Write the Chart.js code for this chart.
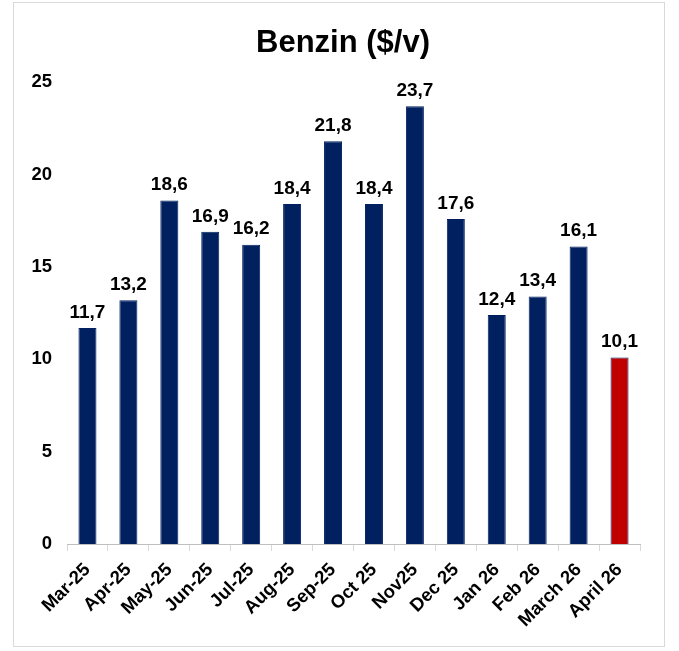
<!DOCTYPE html>
<html>
<head>
<meta charset="utf-8">
<script src="https://cdn.jsdelivr.net/npm/chart.js@4"></script>
<style>
html,body{margin:0;padding:0;background:#fff;}
#wrap{position:absolute;left:0;top:0;width:679px;height:651px;}
#frame{position:absolute;left:13px;top:2px;width:650px;height:643px;border:1px solid #d9d9d9;pointer-events:none;}
</style>
</head>
<body>
<div id="wrap"><canvas id="c" width="679" height="651"></canvas></div>
<div id="frame"></div>
<script>
const categories = ["Mar-25","Apr-25","May-25","Jun-25","Jul-25","Aug-25","Sep-25","Oct 25","Nov25","Dec 25","Jan 26","Feb 26","March 26","April 26"];
const values = [11.7,13.2,18.6,16.9,16.2,18.4,21.8,18.4,23.7,17.6,12.4,13.4,16.1,10.1];
const barColors = ["#002060","#002060","#002060","#002060","#002060","#002060","#002060","#002060","#002060","#002060","#002060","#002060","#002060","#C00000"];
const yTicks = [0,5,10,15,20,25];
const titleText = "Benzin ($/v)";

const FONT = "'Liberation Sans', Arial, sans-serif";

const labelPlugin = {
  id: 'valueLabels',
  afterDatasetsDraw(chart) {
    const ctx = chart.ctx;
    const meta = chart.getDatasetMeta(0);
    ctx.save();
    ctx.font = "bold 19px " + FONT;
    ctx.fillStyle = "#000";
    ctx.textAlign = "center";
    ctx.textBaseline = "bottom";
    meta.data.forEach((bar, i) => {
      const txt = values[i].toFixed(1).replace('.', ',');
      ctx.fillText(txt, bar.x, bar.y - 6);
    });
    ctx.restore();
  }
};

new Chart(document.getElementById('c'), {
  type: 'bar',
  data: {
    labels: categories,
    datasets: [{
      data: values,
      backgroundColor: barColors,
      borderColor: "#002060",
      borderWidth: 1,
      barPercentage: 0.44,
      categoryPercentage: 1.0
    }]
  },
  options: {
    responsive: false,
    animation: false,
    devicePixelRatio: 1,
    layout: { padding: { left: 7, right: 0, top: 0, bottom: 0 } },
    plugins: {
      legend: { display: false },
      tooltip: { enabled: false },
      title: {
        display: true,
        text: titleText,
        color: "#000",
        font: { family: FONT, size: 31, weight: 'bold', lineHeight: 1.2 },
        padding: { top: 25, bottom: 20 }
      }
    },
    scales: {
      x: {
        offset: true,
        grid: { display: true, drawOnChartArea: false, drawTicks: true, tickLength: 7, color: "#d9d9d9", offset: true },
        border: { display: true, color: "#bfbfbf", width: 1 },
        ticks: {
          color: "#000",
          font: { family: FONT, size: 18.5, weight: 'bold' },
          minRotation: 45, maxRotation: 45, autoSkip: false, padding: 8
        },
        afterFit(scale) { scale.height = 107; }
      },
      y: {
        min: 0, max: 25,
        grid: { display: false, drawTicks: false },
        border: { display: false },
        afterBuildTicks(scale) { scale.ticks = yTicks.map(v => ({ value: v })); },
        ticks: {
          color: "#000",
          font: { family: FONT, size: 18.5, weight: 'bold' },
          padding: 15
        },
        afterFit(scale) { scale.width = 60; }
      },
      yRight: {
        position: 'right',
        min: 0, max: 25,
        grid: { display: false, drawTicks: false },
        border: { display: false },
        ticks: { display: false },
        afterFit(scale) { scale.width = 39; }
      }
    }
  },
  plugins: [labelPlugin]
});
</script>
</body>
</html>
